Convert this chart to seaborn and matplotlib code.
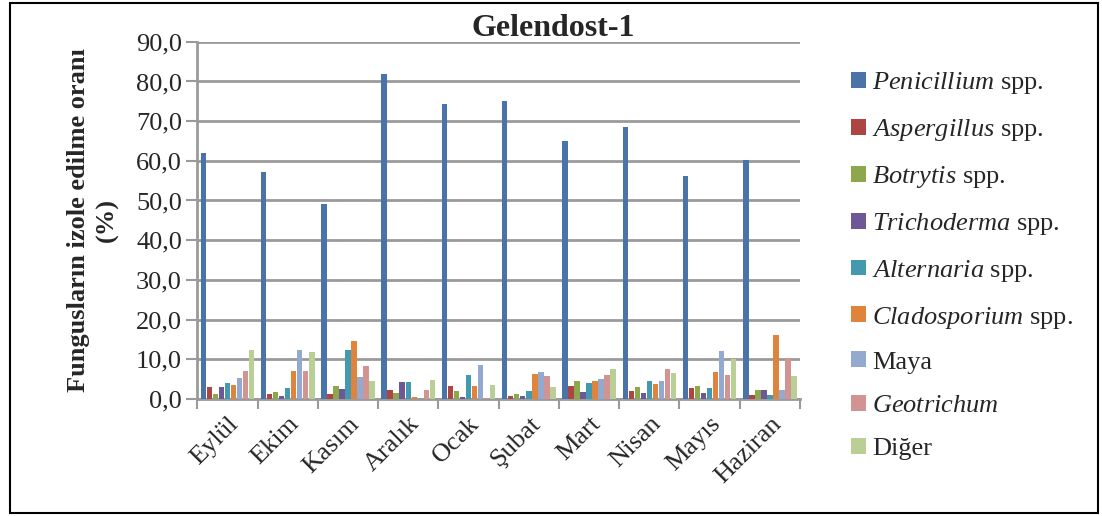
import matplotlib
matplotlib.use("Agg")
import matplotlib.pyplot as plt
import seaborn as sns
import pandas as pd
import numpy as np
from matplotlib.patches import Rectangle, Patch

months = ["Eylül", "Ekim", "Kasım", "Aralık", "Ocak", "Şubat", "Mart", "Nisan", "Mayıs", "Haziran"]
taxa = ["Penicillium", "Aspergillus", "Botrytis", "Trichoderma", "Alternaria",
        "Cladosporium", "Maya", "Geotrichum", "Diğer"]
legend_labels = [r"$\it{Penicillium}$ spp.", r"$\it{Aspergillus}$ spp.", r"$\it{Botrytis}$ spp.",
                 r"$\it{Trichoderma}$ spp.", r"$\it{Alternaria}$ spp.", r"$\it{Cladosporium}$ spp.",
                 "Maya", r"$\it{Geotrichum}$", "Diğer"]

penicillium  = [62.0, 57.3, 49.2, 81.9, 74.2, 75.1, 65.0, 68.6, 56.2, 60.3]
aspergillus  = [2.9, 1.3, 1.2, 2.3, 3.3, 0.8, 3.3, 2.0, 2.7, 1.0]
botrytis     = [1.3, 1.8, 3.3, 1.6, 2.0, 1.2, 4.5, 2.9, 3.3, 2.3]
trichoderma  = [2.9, 0.8, 2.4, 4.3, 0.4, 0.6, 1.8, 1.6, 1.6, 2.3]
alternaria   = [4.1, 2.7, 12.2, 4.3, 6.0, 2.1, 3.9, 4.4, 2.7, 1.0]
cladosporium = [3.5, 6.9, 14.5, 0.4, 3.3, 6.3, 4.5, 3.8, 6.7, 16.1]
maya         = [5.2, 12.4, 5.6, 0.0, 8.6, 6.7, 5.0, 4.4, 12.1, 2.3]
geotrichum   = [7.0, 6.9, 8.4, 2.3, 0.3, 5.8, 6.0, 7.5, 6.1, 10.3]
diger        = [12.4, 11.9, 4.4, 4.8, 3.5, 2.9, 7.6, 6.6, 10.1, 5.8]

series = [penicillium, aspergillus, botrytis, trichoderma, alternaria,
          cladosporium, maya, geotrichum, diger]
colors = ["#4A73A9", "#AD4543", "#8DA84B", "#6E5797", "#4399B0",
          "#E1843B", "#94A9CF", "#D49393", "#B9CF96"]

rows = []
for t, vals in zip(taxa, series):
    for m, v in zip(months, vals):
        rows.append({"Ay": m, "Tür": t, "Oran": v})
df = pd.DataFrame(rows)

sns.set_theme(style="white")
plt.rcParams["font.family"] = ["Liberation Serif", "DejaVu Serif"]
plt.rcParams["mathtext.fontset"] = "custom"
plt.rcParams["mathtext.rm"] = "Liberation Serif"
plt.rcParams["mathtext.it"] = "Liberation Serif:italic"

fig = plt.figure(figsize=(11.02, 5.16), dpi=100)
ax = fig.add_axes([0.179, 0.227, 0.547, 0.692])

sns.barplot(data=df, x="Ay", y="Oran", hue="Tür", order=months, hue_order=taxa,
            palette=colors, saturation=1, width=0.9, ax=ax, legend=False, errorbar=None,
            edgecolor="none", linewidth=0, zorder=3)

# shrink bars a little so neighbouring bars stay apart
for p in ax.patches:
    w = p.get_width()
    p.set_x(p.get_x() + w * 0.05)
    p.set_width(w * 0.9)

ax.set_ylim(0, 90)
ax.set_xlim(-0.5, len(months) - 0.5)
ax.set_yticks(np.arange(0, 91, 10))
ax.set_yticklabels([f"{v:.1f}".replace(".", ",") for v in np.arange(0, 91, 10)], fontsize=19)
ax.yaxis.grid(True, color="#9A9A9A", linewidth=2, zorder=0)
ax.set_axisbelow(True)

for s in ["top", "right"]:
    ax.spines[s].set_visible(False)
for s in ["left", "bottom"]:
    ax.spines[s].set_color("#9A9A9A")
    ax.spines[s].set_linewidth(2)

ax.tick_params(axis="y", which="major", length=8, width=1.5, color="#9A9A9A", left=True, pad=3)
ax.set_xticks(range(len(months)))
ax.set_xticklabels(months, rotation=45, ha="right", rotation_mode="anchor", fontsize=19)
ax.tick_params(axis="x", which="major", length=0, pad=10)
ax.set_xticks(np.arange(-0.5, len(months), 1), minor=True)
ax.tick_params(axis="x", which="minor", length=7, width=1.5, color="#9A9A9A", bottom=True)

ax.set_xlabel("")
ax.set_ylabel("Fungusların izole edilme oranı\n(%)", fontsize=19, fontweight="bold",
              labelpad=12, linespacing=1.3)
fig.text(0.502, 0.930, "Gelendost-1", ha="center", va="baseline",
         fontsize=23, fontweight="bold")

handles = [Patch(facecolor=c, edgecolor="none") for c in colors]
fig.legend(handles, legend_labels, loc="upper left", bbox_to_anchor=(0.763, 0.884),
           frameon=False, fontsize=19, handlelength=0.55, handleheight=0.55,
           handletextpad=0.25, labelspacing=0.79, borderaxespad=0)

fig.patches.append(Rectangle((0.009, 0.006), 0.987, 0.988, transform=fig.transFigure,
                             fill=False, edgecolor="black", linewidth=1.5))

fig.savefig("out.png", dpi=100)
